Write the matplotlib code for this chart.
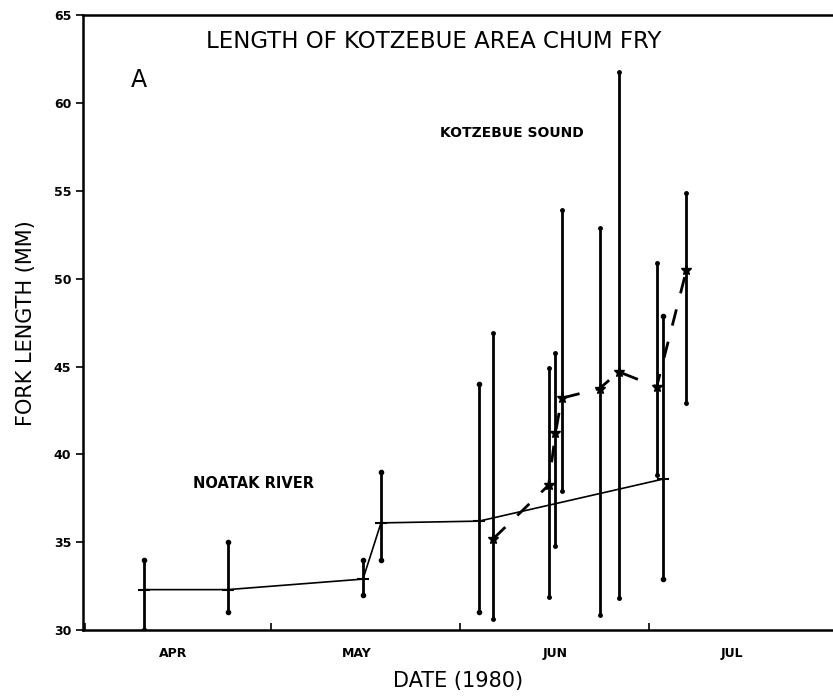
import matplotlib
matplotlib.use("Agg")
import matplotlib.pyplot as plt

# days counted from April 1, 1980
noatak_day = [9.6, 23.0, 44.8, 47.7, 63.5, 93.2]
noatak_mean = [32.3, 32.3, 32.9, 36.1, 36.2, 38.6]
noatak_lo = [30.0, 31.0, 32.0, 34.0, 31.0, 32.9]
noatak_hi = [34.0, 35.0, 34.0, 39.0, 44.0, 47.9]

kotz_day = [65.8, 74.7, 75.8, 76.8, 82.9, 86.0, 92.1, 96.9]
kotz_mean = [35.2, 38.25, 41.2, 43.2, 43.75, 44.7, 43.85, 50.5]
kotz_lo = [30.6, 31.9, 34.8, 37.9, 30.85, 31.8, 38.8, 42.9]
kotz_hi = [46.9, 44.9, 45.8, 53.9, 52.9, 61.8, 50.9, 54.9]

month_starts = [0, 30, 60.5, 90.8]
month_mids = [14.2, 43.8, 75.7, 104.3]
month_names = ["APR", "MAY", "JUN", "JUL"]
y_ticks = [30, 35, 40, 45, 50, 55, 60, 65]

fig = plt.figure(figsize=(8.33, 6.96), dpi=100)
ax = fig.add_axes([0.0996, 0.0948, 0.9004, 0.8832])

# error bars
for d, lo, hi in zip(noatak_day, noatak_lo, noatak_hi):
    ax.plot([d, d], [lo, hi], color="black", lw=2.0, solid_capstyle="round")
for d, lo, hi in zip(kotz_day, kotz_lo, kotz_hi):
    ax.plot([d, d], [lo, hi], color="black", lw=2.0, solid_capstyle="round")
ax.plot(noatak_day, noatak_lo, "o", color="black", ms=3)
ax.plot(noatak_day, noatak_hi, "o", color="black", ms=3)
ax.plot(kotz_day, kotz_lo, "o", color="black", ms=2.5)
ax.plot(kotz_day, kotz_hi, "o", color="black", ms=2.5)

# means
ax.plot(noatak_day, noatak_mean, color="black", lw=1.2, marker="_", ms=9, mew=1.5)
ax.plot(kotz_day, kotz_mean, color="black", lw=2.0, linestyle=(0, (6, 6)),
        marker="*", ms=8)

ax.set_xlim(-0.3, 120.5)
ax.set_ylim(30, 65)

ax.set_yticks(y_ticks)
ax.set_yticklabels([str(v) for v in y_ticks], fontweight="bold", fontsize=9)
ax.tick_params(axis="y", direction="out", length=5, width=1.2)

ax.set_xticks(month_starts)
ax.set_xticklabels([""] * len(month_starts))
ax.set_xticks(month_mids, minor=True)
ax.set_xticklabels(month_names, minor=True, fontweight="bold", fontsize=9)
ax.tick_params(axis="x", which="major", direction="in", length=5, width=1.2)
ax.tick_params(axis="x", which="minor", length=0, pad=12)

for side in ["left", "bottom", "top"]:
    ax.spines[side].set_linewidth(1.8)
ax.spines["right"].set_visible(False)

ax.set_xlabel("DATE (1980)", fontsize=15, labelpad=8)
ax.set_ylabel("FORK LENGTH (MM)", fontsize=15, labelpad=13)

ax.text(0.467, 0.976, "LENGTH OF KOTZEBUE AREA CHUM FRY", transform=ax.transAxes,
        ha="center", va="top", fontsize=16.5)
ax.text(0.074, 0.915, "A", transform=ax.transAxes, ha="center", va="top",
        fontsize=17)
ax.text(0.572, 0.808, "KOTZEBUE SOUND", transform=ax.transAxes, ha="center",
        va="center", fontsize=10, fontweight="bold")
ax.text(0.228, 0.238, "NOATAK RIVER", transform=ax.transAxes, ha="center",
        va="center", fontsize=10.5, fontweight="bold")

fig.savefig("out.png", dpi=100)
